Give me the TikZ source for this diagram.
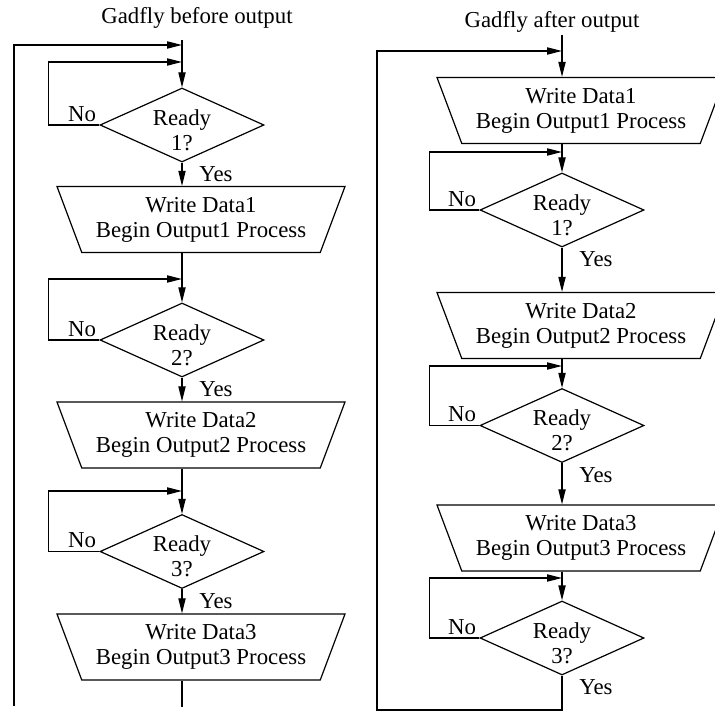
\documentclass[tikz,border=0pt]{standalone}
\usepackage{fontspec}
\setmainfont{Liberation Serif}
\usetikzlibrary{shapes.geometric,arrows.meta}
\tikzset{
  decide/.style={diamond, draw, line width=0.6pt, minimum width=82pt, minimum height=37pt, inner sep=0pt},
  rdytext/.style={align=center, yshift=-2.5pt},
  wrbox/.style={trapezium, draw, line width=0.6pt, shape border rotate=180, trapezium left angle=67, trapezium right angle=67, trapezium stretches body, minimum width=144pt, minimum height=33pt, align=center},
  flow/.style={line width=0.6pt, -{Triangle[length=7.5pt,width=3.6pt]}},
  wire/.style={line width=0.6pt},
  nolab/.style={anchor=south east, inner sep=1.5pt},
  yeslab/.style={anchor=north west, inner sep=2pt, xshift=6.5pt}
}
\begin{document}
\begin{tikzpicture}[x=0.5pt,y=-0.5pt,font=\fontsize{11.4}{12.5}\selectfont]
\useasboundingbox (0,0) rectangle (714,715);

\node (btitle) at (197,18) {Gadfly before output};
\coordinate (bstart) at (182,40);
\coordinate (bouter) at (182,45);
\coordinate (bend) at (14,706);
\coordinate (bj1) at (182,62);
\coordinate (bj2) at (182,279);
\coordinate (bj3) at (182,491);

\node[decide, label={[rdytext]center:{Ready\\1?}}] (bd1) at (182,125) {};
\node[wrbox] (bw1) at (201,219.5) {Write Data1\\Begin Output1 Process};
\node[decide, label={[rdytext]center:{Ready\\2?}}] (bd2) at (182,340) {};
\node[wrbox] (bw2) at (201,435) {Write Data2\\Begin Output2 Process};
\node[decide, label={[rdytext]center:{Ready\\3?}}] (bd3) at (182,551.5) {};
\node[wrbox] (bw3) at (201,647) {Write Data3\\Begin Output3 Process};

\node[nolab] (bno1) at (bd1.west) {No};
\node[nolab] (bno2) at (bd2.west) {No};
\node[nolab] (bno3) at (bd3.west) {No};
\node[yeslab] (byes1) at (bd1.south) {Yes};
\node[yeslab] (byes2) at (bd2.south) {Yes};
\node[yeslab] (byes3) at (bd3.south) {Yes};

\draw[flow] (bstart) -- (bd1.north);
\draw[flow] (bend) |- (bouter);
\draw[flow] (bd1.west) -- ++(-51,0) |- (bj1);
\draw[flow] (bd1.south) -- (bd1.south |- bw1.north);
\draw[flow] (bw1.south -| bd2.north) -- (bd2.north);
\draw[flow] (bd2.west) -- ++(-51,0) |- (bj2);
\draw[flow] (bd2.south) -- (bd2.south |- bw2.north);
\draw[flow] (bw2.south -| bd3.north) -- (bd3.north);
\draw[flow] (bd3.west) -- ++(-51,0) |- (bj3);
\draw[flow] (bd3.south) -- (bd3.south |- bw3.north);
\draw[wire] (bw3.south -| bd3.south) -- ++(0,26);

\node (atitle) at (552,22) {Gadfly after output};
\coordinate (astart) at (562,35);
\coordinate (aouter) at (562,51);
\coordinate (acorner) at (377,710);
\coordinate (aj1) at (562,152);
\coordinate (aj2) at (562,366);
\coordinate (aj3) at (562,578);

\node[wrbox] (aw1) at (581,110.5) {Write Data1\\Begin Output1 Process};
\node[decide, label={[rdytext]center:{Ready\\1?}}] (ad1) at (562,210) {};
\node[wrbox] (aw2) at (581,325.5) {Write Data2\\Begin Output2 Process};
\node[decide, label={[rdytext]center:{Ready\\2?}}] (ad2) at (562,425.5) {};
\node[wrbox] (aw3) at (581,538) {Write Data3\\Begin Output3 Process};
\node[decide, label={[rdytext]center:{Ready\\3?}}] (ad3) at (562,638) {};

\node[nolab] (ano1) at (ad1.west) {No};
\node[nolab] (ano2) at (ad2.west) {No};
\node[nolab] (ano3) at (ad3.west) {No};
\node[yeslab] (ayes1) at (ad1.south) {Yes};
\node[yeslab] (ayes2) at (ad2.south) {Yes};
\node[yeslab] (ayes3) at (ad3.south) {Yes};

\draw[flow] (astart) -- (astart |- aw1.north);
\draw[flow] (aw1.south -| ad1.north) -- (ad1.north);
\draw[flow] (ad1.west) -- ++(-50,0) |- (aj1);
\draw[flow] (ad1.south) -- (ad1.south |- aw2.north);
\draw[flow] (aw2.south -| ad2.north) -- (ad2.north);
\draw[flow] (ad2.west) -- ++(-50,0) |- (aj2);
\draw[flow] (ad2.south) -- (ad2.south |- aw3.north);
\draw[flow] (aw3.south -| ad3.north) -- (ad3.north);
\draw[flow] (ad3.west) -- ++(-50,0) |- (aj3);
\draw[flow] (ad3.south) |- (acorner) |- (aouter);
\end{tikzpicture}
\end{document}
